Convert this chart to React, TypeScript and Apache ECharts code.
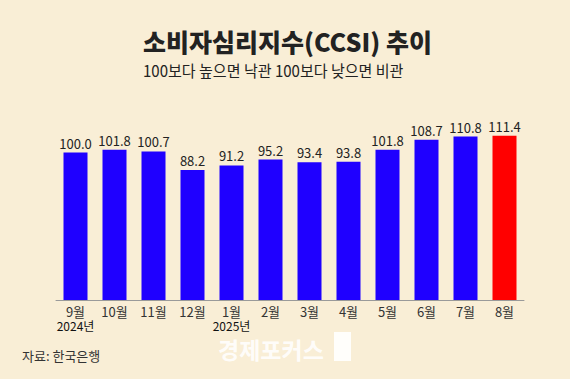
import React, { useEffect, useRef } from "react";
import * as echarts from "echarts";

const months = ["9월", "10월", "11월", "12월", "1월", "2월", "3월", "4월", "5월", "6월", "7월", "8월"];
const years = ["2024년", "", "", "", "2025년", "", "", "", "", "", "", ""];
const values = [100.0, 101.8, 100.7, 88.2, 91.2, 95.2, 93.4, 93.8, 101.8, 108.7, 110.8, 111.4];
const highlightIndex = 11;

const title = "소비자심리지수(CCSI) 추이";
const subtitle = "100보다 높으면 낙관 100보다 낮으면 비관";
const source = "자료: 한국은행";
const watermark = "경제포커스";

const FONT = "'Noto Sans CJK KR', 'Noto Sans', sans-serif";

export default function App() {
  const ref = useRef<HTMLDivElement>(null);
  useEffect(() => {
    if (!ref.current) return;
    const chart = echarts.init(ref.current, null, { renderer: "svg" });
    chart.setOption({
      animation: false,
      backgroundColor: "#F9EED6",
      textStyle: { fontFamily: FONT },
      grid: { left: 56, right: 46, top: 123, bottom: 79 },
      xAxis: [
        {
          type: "category",
          data: months,
          axisLine: { lineStyle: { color: "#9a9a9a", width: 1 } },
          axisTick: { show: false },
          axisLabel: {
            margin: 5,
            interval: 0,
            fontSize: 13,
            lineHeight: 13,
            color: "#333",
            fontFamily: FONT,
          },
        },
        {
          type: "category",
          data: years,
          position: "bottom",
          offset: 14,
          axisLine: { show: false },
          axisTick: { show: false },
          axisLabel: {
            margin: 5,
            interval: 0,
            fontSize: 12,
            lineHeight: 12,
            color: "#111",
            fontFamily: FONT,
          },
        },
      ],
      yAxis: { type: "value", min: 0, max: 120, show: false, splitLine: { show: false } },
      series: [
        {
          type: "bar",
          barWidth: 24,
          xAxisIndex: 0,
          data: values.map((v, i) => ({
            value: v,
            itemStyle: { color: i === highlightIndex ? "#FF0000" : "#1F00FF" },
          })),
          label: {
            show: true,
            position: "top",
            distance: 3,
            fontSize: 13,
            color: "#222",
            fontFamily: FONT,
            formatter: (p: any) => Number(p.value).toFixed(1),
          },
        },
      ],
      graphic: [
        {
          type: "text",
          left: 143,
          top: 28,
          style: { text: title, fontSize: 25, fontWeight: 900, fill: "#222", fontFamily: FONT },
          scaleX: 1.0,
        },
        {
          type: "text",
          left: 143,
          top: 62,
          style: { text: subtitle, fontSize: 16, fill: "#222", fontFamily: FONT },
          scaleX: 0.94,
        },
        {
          type: "text",
          left: 22,
          top: 349,
          style: { text: source, fontSize: 13, fill: "#333", fontFamily: FONT },
        },
        {
          type: "text",
          left: 218,
          top: 337,
          style: { text: watermark, fontSize: 23, lineHeight: 23, fontWeight: "bold", fill: "#ffffff", opacity: 0.9, fontFamily: FONT },
        },
        {
          type: "rect",
          shape: { x: 334, y: 332, width: 17, height: 29 },
          style: { fill: "#ffffff", opacity: 0.9 },
        },
      ],
    });
    return () => chart.dispose();
  }, []);
  return (
    <div
      ref={ref}
      style={{ position: "fixed", left: 0, top: 0, width: 570, height: 379 }}
    />
  );
}
